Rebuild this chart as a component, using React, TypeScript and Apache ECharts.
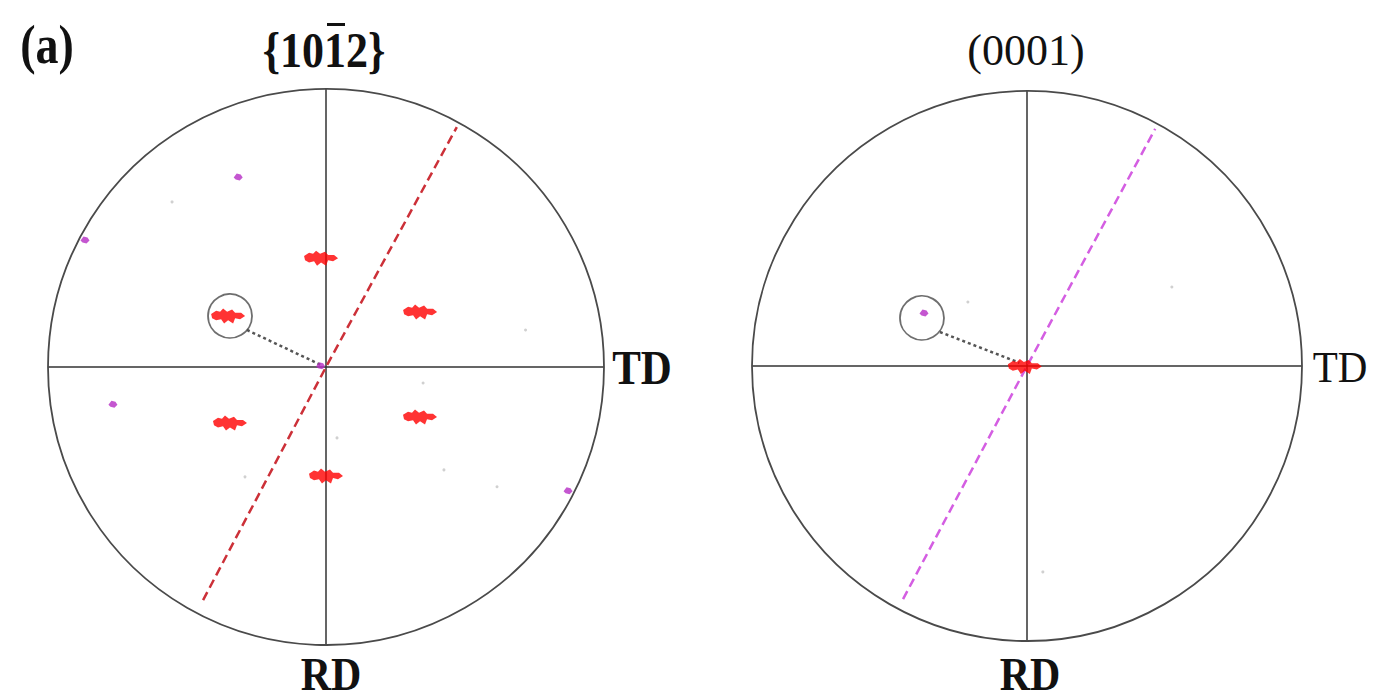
import React, { useEffect, useRef } from "react";
import * as echarts from "echarts";

// Polar pole-figure data: [radius (0..1), angle in degrees, counter-clockwise from TD]
const leftClusters: number[][] = [
  [0.392, 92.6],
  [0.392, 30.3],
  [0.397, 152.5],
  [0.4, 210.3],
  [0.383, 332.0],
  [0.392, 270.0],
];
const leftMagenta: number[][] = [
  [0.753, 114.8],
  [0.98, 152.2],
  [0.778, 189.9],
  [0.978, 332.9],
  [0.02, 166.0],
];
const leftSpecks: number[][] = [
  [0.258, 278.8],
  [0.73, 10.5],
  [0.563, 318.9],
  [0.491, 233.6],
  [0.812, 133.0],
  [0.354, 350.6],
  [0.751, 325.0],
];
const leftHighlight: number[][] = [[0.391, 152.0]];
const leftLink: number[][] = [
  [0.314, 154.9],
  [0.012, 160.0],
];
const leftTrace: number[][] = [
  [0.948, 242.2],
  [0, 0],
  [0.983, 61.4],
];

const rightClusters: number[][] = [[0.008, 190.0]];
const rightMagenta: number[][] = [[0.421, 152.8]];
const rightSpecks: number[][] = [
  [0.6, 28.6],
  [0.751, 274.4],
  [0.317, 132.7],
];
const rightHighlight: number[][] = [[0.42, 155.4]];
const rightLink: number[][] = [
  [0.34, 158.7],
  [0.03, 157.0],
];
const rightTrace: number[][] = [
  [0.96, 242.0],
  [0, 0],
  [0.98, 61.6],
];

const titles = { panel: "(a)", left: "{1012}", right: "(0001)", td: "TD", rd: "RD" };

const BLOB =
  "path://M0,5 L5,2 L9,3 L12,0 L16,3 L21,1 L24,4 L30,4 L34,7 L29,10 L24,9 L22,14 L17,11 L13,14 L10,10 L5,11 L1,9 Z";
const DOT = "path://M0,4 L3,0 L7,1 L9,4 L6,7 L2,6 Z";

function angleAxis(idx: number) {
  return {
    polarIndex: idx,
    type: "value",
    min: 0,
    max: 360,
    interval: 90,
    startAngle: 0,
    clockwise: false,
    axisLine: { show: true, lineStyle: { color: "#4a4a4a", width: 1.8 } },
    axisTick: { show: false },
    axisLabel: { show: false },
    splitLine: { show: true, lineStyle: { color: "#333", width: 1.5 } },
  };
}
function radiusAxis(idx: number) {
  return {
    polarIndex: idx,
    type: "value",
    min: 0,
    max: 1,
    axisLine: { show: false },
    axisTick: { show: false },
    axisLabel: { show: false },
    splitLine: { show: false },
  };
}

function panelSeries(
  idx: number,
  clusters: number[][],
  magenta: number[][],
  specks: number[][],
  highlight: number[][],
  link: number[][],
  trace: number[][],
  traceColor: string
) {
  return [
    {
      type: "line",
      coordinateSystem: "polar",
      polarIndex: idx,
      data: trace,
      symbol: "none",
      lineStyle: { color: traceColor, width: 2.5, type: [9, 5] },
      z: 3,
    },
    {
      type: "line",
      coordinateSystem: "polar",
      polarIndex: idx,
      data: link,
      symbol: "none",
      lineStyle: { color: "#555", width: 2.5, type: [3, 3] },
      z: 3,
    },
    {
      type: "scatter",
      coordinateSystem: "polar",
      polarIndex: idx,
      data: specks,
      symbol: "circle",
      symbolSize: 3,
      itemStyle: { color: "#c4c4c4" },
      z: 4,
    },
    {
      type: "scatter",
      coordinateSystem: "polar",
      polarIndex: idx,
      data: clusters,
      symbol: BLOB,
      symbolSize: [34, 15],
      itemStyle: { color: "#ff0000" },
      z: 5,
    },
    {
      type: "scatter",
      coordinateSystem: "polar",
      polarIndex: idx,
      data: magenta,
      symbol: DOT,
      symbolSize: [9, 7],
      itemStyle: { color: "#b52cc4" },
      z: 6,
    },
    {
      type: "scatter",
      coordinateSystem: "polar",
      polarIndex: idx,
      data: highlight,
      symbol: "circle",
      symbolSize: 44,
      itemStyle: { color: "rgba(0,0,0,0)", borderColor: "#4a4a4a", borderWidth: 1.8 },
      z: 7,
    },
  ];
}

function txt(text: string, x: number, y: number, size: number, bold: boolean, sy = 1.15) {
  return {
    type: "text",
    x,
    y,
    scaleY: sy,
    style: {
      text,
      fill: "#111",
      font: `${bold ? "bold " : ""}${size}px "Liberation Serif", "DejaVu Serif", serif`,
      textAlign: "center",
      textVerticalAlign: "middle",
    },
  };
}

export default function App() {
  const ref = useRef<HTMLDivElement>(null);
  useEffect(() => {
    if (!ref.current) return;
    const chart = echarts.init(ref.current, null, { renderer: "svg" });
    chart.setOption({
      animation: false,
      backgroundColor: "#fff",
      polar: [
        { center: [326, 367], radius: 278 },
        { center: [1027, 366], radius: 275 },
      ],
      angleAxis: [angleAxis(0), angleAxis(1)],
      radiusAxis: [radiusAxis(0), radiusAxis(1)],
      series: [
        ...panelSeries(0, leftClusters, leftMagenta, leftSpecks, leftHighlight, leftLink, leftTrace, "#cc3038"),
        ...panelSeries(1, rightClusters, rightMagenta, rightSpecks, rightHighlight, rightLink, rightTrace, "#d45ee2"),
      ],
      graphic: [
        txt(titles.panel, 47, 45, 46, true, 1.2),
        txt(titles.left, 324, 50, 44, true, 1.15),
        // overline on the barred index (third digit)
        {
          type: "rect",
          shape: { x: 327, y: 23, width: 18, height: 3 },
          style: { fill: "#111" },
        },
        txt(titles.right, 1026, 50, 44, false, 1.0),
        txt(titles.td, 642, 367, 43, true, 1.15),
        txt(titles.td, 1340, 367, 41, false, 1.08),
        txt(titles.rd, 331, 674, 42, true, 1.12),
        txt(titles.rd, 1030, 674, 42, true, 1.12),
      ],
    });
    return () => chart.dispose();
  }, []);
  return (
    <div
      ref={ref}
      style={{ position: "absolute", left: 0, top: 0, width: 1374, height: 700 }}
    />
  );
}
